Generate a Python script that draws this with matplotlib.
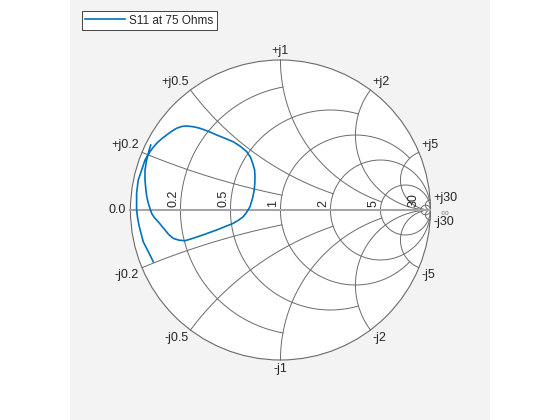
import numpy as np
import matplotlib
matplotlib.use("Agg")
import matplotlib.pyplot as plt
from matplotlib.patches import Circle

plt.rcParams["font.family"] = ["Liberation Sans", "DejaVu Sans"]

# Smith grid: circle values and the value at which each one is clipped
grid_values = [0.2, 0.5, 1, 2, 5, 30]
grid_clip = [1, 2, 5, 30, np.inf, np.inf]
r_labels = ["0.2", "0.5", "1", "2", "5", "30"]
x_labels = ["0.2", "0.5", "1", "2", "5", "30"]

s11_re = [-0.848, -0.865, -0.881, -0.915, -0.941, -0.952, -0.959, -0.959,
          -0.948, -0.925, -0.903, -0.870, -0.848, -0.825, -0.792, -0.759,
          -0.725, -0.692, -0.658, -0.625, -0.580, -0.537, -0.480, -0.425,
          -0.370, -0.315, -0.268, -0.225, -0.200, -0.185, -0.172, -0.170,
          -0.171, -0.175, -0.186, -0.203, -0.225, -0.248, -0.280, -0.315,
          -0.370, -0.425, -0.480, -0.537, -0.587, -0.637, -0.677, -0.715,
          -0.745, -0.770, -0.793, -0.815, -0.840, -0.859, -0.881, -0.891,
          -0.897, -0.903, -0.903, -0.892, -0.875, -0.865]
s11_im = [-0.345, -0.310, -0.278, -0.211, -0.111, -0.055, 0.000, 0.111,
          0.200, 0.267, 0.333, 0.389, 0.418, 0.445, 0.475, 0.500,
          0.525, 0.545, 0.557, 0.560, 0.555, 0.545, 0.524, 0.500,
          0.478, 0.455, 0.425, 0.389, 0.352, 0.311, 0.267, 0.222,
          0.178, 0.133, 0.078, 0.022, -0.015, -0.045, -0.068, -0.089,
          -0.111, -0.133, -0.153, -0.173, -0.190, -0.205, -0.201, -0.189,
          -0.163, -0.133, -0.105, -0.078, -0.052, -0.022, 0.045, 0.089,
          0.133, 0.200, 0.267, 0.333, 0.400, 0.433]

GRID_COLOR = "#6a6a6a"
TEXT_COLOR = "#262626"


def gamma(z):
    return (z - 1) / (z + 1)


fig = plt.figure(figsize=(5.6, 4.2), dpi=100, facecolor="white")
ax = fig.add_axes([70 / 560, 0, 420 / 560, 1])
ax.set_facecolor("#f3f3f3")
for sp in ax.spines.values():
    sp.set_visible(False)
ax.set_xticks([])
ax.set_yticks([])
ax.set_xlim(-1.403, 1.397)
ax.set_ylim(-1.4, 1.4)

ax.add_patch(Circle((0, 0), 1, facecolor="white", edgecolor=GRID_COLOR,
                    linewidth=0.8, zorder=1))

# resistance circles, clipped in reactance
for r, clip in zip(grid_values, grid_clip):
    x = np.tan(np.linspace(-np.arctan(clip), np.arctan(clip), 600))
    g = gamma(r + 1j * x)
    ax.plot(g.real, g.imag, color=GRID_COLOR, linewidth=0.7, zorder=2)

# reactance arcs, clipped in resistance
for xv, clip in zip(grid_values, grid_clip):
    r = np.tan(np.linspace(0, np.arctan(clip), 600))
    for sgn in (1, -1):
        g = gamma(r + 1j * sgn * xv)
        ax.plot(g.real, g.imag, color=GRID_COLOR, linewidth=0.7, zorder=2)

ax.plot([-1, 1], [0, 0], color="#a6a6a6", linewidth=1.5, zorder=3)

# resistance labels along the real axis
for r, lab in zip(grid_values, r_labels):
    gr = (r - 1) / (r + 1)
    ax.text(gr - 0.008, 0.02, lab, rotation=90, ha="right", va="bottom",
            fontsize=9, color=TEXT_COLOR, zorder=5)
ax.text(-1.03, 0, "0.0", ha="right", va="center", fontsize=9,
        color=TEXT_COLOR)
ax.text(1.095, -0.015, "\u221e", ha="center", va="center", fontsize=8,
        color="#8a8a8a")

# reactance labels around the rim
for xv, lab in zip(grid_values, x_labels):
    for sgn, pre in ((1, "+j"), (-1, "-j")):
        g = gamma(1j * sgn * xv)
        px, py = g.real * 1.02, g.imag * 1.02
        if abs(g.real) < 0.1:
            ha = "center"
        elif g.real > 0:
            ha = "left"
        else:
            ha = "right"
        if abs(g.imag) < 0.2:
            va = "center"
            py = g.imag + sgn * 0.012
        elif g.imag > 0:
            va = "bottom"
        else:
            va = "top"
        ax.text(px, py, pre + lab, ha=ha, va=va, fontsize=9,
                color=TEXT_COLOR)

line, = ax.plot(s11_re, s11_im, color="#0072BD", linewidth=1.2, zorder=4,
                label="S11 at 75 Ohms")

leg = fig.legend(handles=[line], loc="upper left",
                 bbox_to_anchor=(81.7 / 560, 1 - 11 / 420), borderaxespad=0,
                 fontsize=8.5, frameon=True, fancybox=False, framealpha=1,
                 borderpad=0.3, handlelength=3.4, handletextpad=0.3)
leg.get_frame().set_edgecolor("#262626")
leg.get_frame().set_linewidth(0.6)
for t in leg.get_texts():
    t.set_color(TEXT_COLOR)

fig.savefig("out.png", dpi=100)
